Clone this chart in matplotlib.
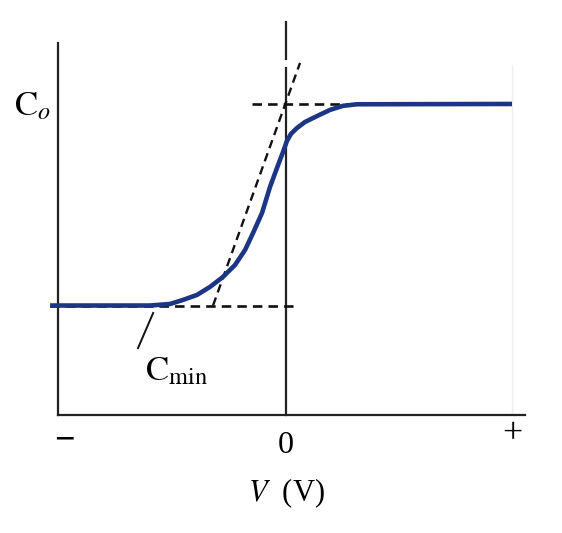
import matplotlib
matplotlib.use("Agg")
import matplotlib.pyplot as plt
import matplotlib.transforms as mtransforms

plt.rcParams['mathtext.fontset'] = 'stix'
plt.rcParams['font.family'] = ['Liberation Serif', 'DejaVu Serif']

# C-V curve (V normalised so "-" = -1, "+" = +1; C normalised so Co = 1)
v_curve = [-1.044, -0.602, -0.513, -0.456, -0.394, -0.336, -0.279, -0.226, -0.181,
           -0.146, -0.106, -0.071, -0.035, -0.013, 0.004, 0.022, 0.049, 0.084,
           0.137, 0.195, 0.252, 0.314, 1.0]
c_curve = [0.352, 0.352, 0.357, 0.370, 0.386, 0.412, 0.444, 0.482, 0.531,
           0.585, 0.650, 0.733, 0.804, 0.846, 0.881, 0.904, 0.923, 0.942,
           0.961, 0.981, 0.994, 0.999, 1.0]

c_min = 0.352
c_o = 1.0
tangent_v = [-0.323, 0.062]
tangent_c = [0.352, 1.132]
cmin_dash_v = [-1.044, 0.053]
co_dash_v = [-0.150, 1.0]

tick_pos = [-1, 0, 1]
tick_labels = ['\u2212', '0', '+']

fig = plt.figure(figsize=(5.62, 5.33), dpi=100)
ax = fig.add_axes([58 / 562, 118 / 533, 467 / 562, 372 / 533])
ax.set_xlim(-1.009, 1.0575)
ax.set_ylim(0, 1.196)

for s in ['top', 'right']:
    ax.spines[s].set_visible(False)
for s in ['left', 'bottom']:
    ax.spines[s].set_linewidth(1.6)
    ax.spines[s].set_color('#222222')

ax.set_yticks([])
ax.set_xticks([])

# tick labels placed by hand: "-" and "+" sit higher than "0"
trans = mtransforms.blended_transform_factory(ax.transData, ax.transData)
ax.text(tick_pos[0] + 0.02, -0.082, tick_labels[0], fontsize=26, ha='center', va='center',
        transform=trans, fontweight='bold')
ax.text(tick_pos[1], -0.097, tick_labels[1], fontsize=23, ha='center', va='center', transform=trans)
ax.text(tick_pos[2], -0.063, tick_labels[2], fontsize=26, ha='center', va='center', transform=trans)

# faint right guide and zero line
ax.plot([1.0, 1.0], [0, 1.125], color='#eeeeee', lw=1, zorder=0)
ax.plot([0, 0], [0, 1.116], color='#222222', lw=1.6, clip_on=False)
ax.plot([0, 0], [1.145, 1.264], color='#222222', lw=1.6, clip_on=False)

# dashed guides
dash = (0, (3.6, 2.3))
ax.plot(cmin_dash_v, [c_min, c_min], color='#111111', lw=1.9, ls=dash, clip_on=False)
ax.plot(co_dash_v, [c_o, c_o], color='#111111', lw=1.9, ls=dash)
ax.plot(tangent_v, tangent_c, color='#111111', lw=1.7, ls=dash, clip_on=False)

ax.plot(v_curve, c_curve, color='#1c3585', lw=3.3, solid_joinstyle='round',
        solid_capstyle='butt', clip_on=False, zorder=3)

# labels
ax.text(-1.205, 0.99, r'$\mathrm{C}_o$', fontsize=25, ha='left', va='center')
ax.plot([-0.588, -0.655], [0.328, 0.215], color='#111111', lw=1.4)
ax.text(-0.625, 0.14, r'$\mathrm{C}_{\rm min}$', fontsize=25, ha='left', va='center')

ax.text(0, -0.251, r'$V$  (V)', fontsize=22, ha='center', va='center')

fig.savefig('out.png', dpi=100)
